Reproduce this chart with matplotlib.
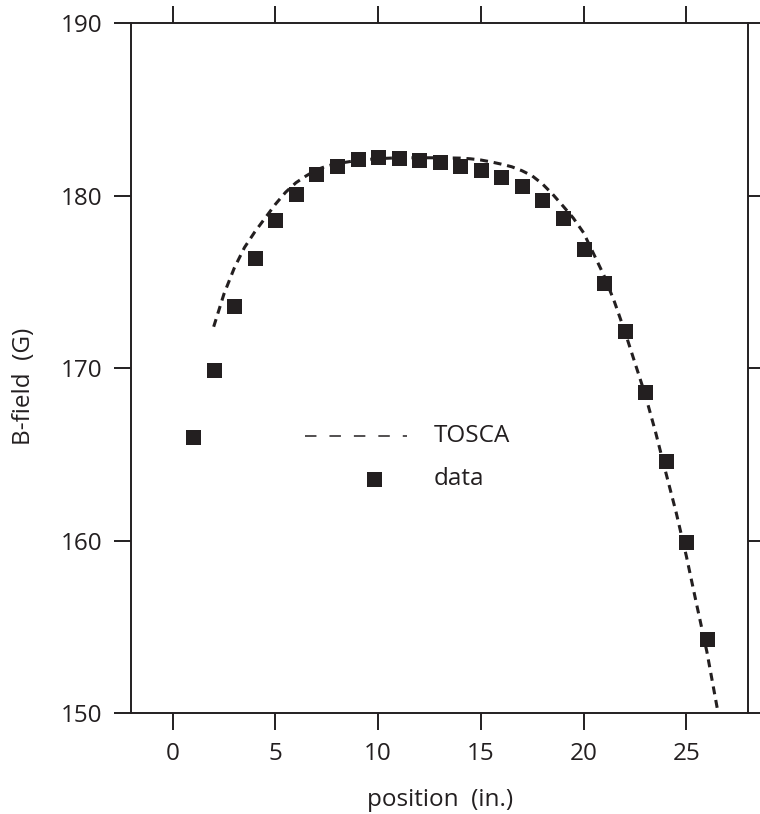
import matplotlib
matplotlib.use("Agg")
import matplotlib.pyplot as plt
import numpy as np

INK = "#231f20"

# measured field along the magnet axis
position = list(range(1, 27))
b_field = [166.0, 169.9, 173.6, 176.4, 178.6, 180.1, 181.25, 181.75, 182.1, 182.22,
           182.2, 182.09, 181.94, 181.74, 181.5, 181.07, 180.58, 179.77, 178.69, 176.93,
           174.92, 172.13, 168.6, 164.61, 159.9, 154.28]

# TOSCA model curve
tosca_x = [2.0, 2.5, 3.0, 3.5, 4.0, 4.5, 5.0, 5.5, 6.0, 6.5, 7.0, 7.5, 8.0, 9.0, 10.0,
           11.0, 12.0, 13.0, 14.0, 14.5, 15.0, 15.5, 16.0, 16.5, 17.0, 17.5, 18.0, 18.5,
           19.0, 19.5, 20.0, 20.5, 21.0, 21.5, 22.0, 22.5, 23.0, 23.5, 24.0, 24.5, 25.0,
           25.5, 26.0, 26.5]
tosca_b = [172.4, 174.3, 175.8, 177.0, 177.9, 178.7, 179.5, 180.2, 180.75, 181.15, 181.5,
           181.72, 181.86, 182.05, 182.15, 182.2, 182.2, 182.2, 182.18, 182.14, 182.07,
           181.96, 181.83, 181.68, 181.45, 181.15, 180.68, 180.08, 179.4, 178.7, 177.85,
           176.6, 175.35, 173.85, 172.15, 170.3, 168.45, 166.3, 163.95, 161.65, 159.1,
           156.3, 153.55, 150.3]

x_ticks = [0, 5, 10, 15, 20, 25]
y_ticks = [150, 160, 170, 180, 190]

plt.rcParams["font.family"] = ["Open Sans", "DejaVu Sans"]
plt.rcParams["font.size"] = 17.5

fig = plt.figure(figsize=(7.6, 8.14), dpi=100)
ax = fig.add_axes([0.173, 0.1241, 0.8112, 0.8473])

ax.plot(tosca_x, tosca_b, color=INK, lw=2.2, linestyle=(0, (2.6, 1.9)))
ax.plot(position, b_field, "s", color=INK, markersize=10.8, markeredgewidth=0)

ax.set_xlim(-2, 28)
ax.set_ylim(150, 190)
ax.set_xticks(x_ticks)
ax.set_yticks(y_ticks)

for sp in ax.spines.values():
    sp.set_linewidth(1.4)
    sp.set_color(INK)
ax.tick_params(direction="out", length=12, width=1.4, color=INK, labelcolor=INK,
               top=True, right=True, labeltop=False, labelright=False, pad=9)

ax.set_xlabel("position  (in.)", color=INK)
ax.set_ylabel("B-field  (G)", color=INK)
ax.xaxis.set_label_coords(0.5, -0.109)
ax.yaxis.set_label_coords(-0.155, 0.474)

# hand-placed key inside the axes
ax.plot([0.281, 0.447], [0.402, 0.402], transform=ax.transAxes, color=INK, lw=1.1,
        linestyle=(0, (7.5, 8.5)), clip_on=False)
ax.text(0.4895, 0.402, "TOSCA", transform=ax.transAxes, va="center", ha="left", color=INK)
ax.plot([0.393], [0.339], "s", transform=ax.transAxes, color=INK, markersize=10.8,
        markeredgewidth=0)
ax.text(0.4895, 0.339, "data", transform=ax.transAxes, va="center", ha="left", color=INK)

fig.savefig("out.png", dpi=100)
